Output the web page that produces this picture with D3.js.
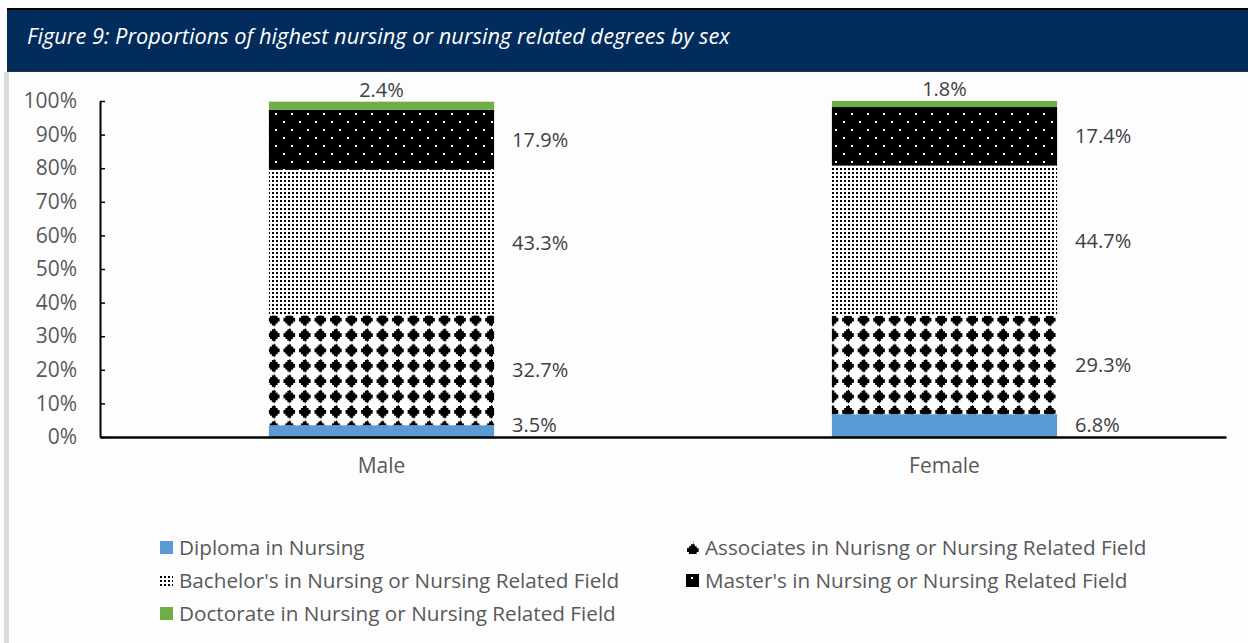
<!DOCTYPE html>
<html lang="en">
<head>
<meta charset="UTF-8">
<title>Figure 9</title>
<script src="https://d3js.org/d3.v7.min.js"></script>
<style>
    body { margin: 0; background: #fdfdfd; }
    svg { display: block; }
    .axis text { font-family: "Open Sans", sans-serif; font-size: 21px; fill: #595959; }
    .lbl { font-family: "Open Sans", sans-serif; font-size: 20px; fill: #404040; }
    .legend text { font-family: "Open Sans", sans-serif; font-size: 20.7px; fill: #595959; }
</style>
</head>
<body>
<svg></svg>
<script>
    // chart data
    var categories = ["Male", "Female"];
    var seriesNames = [
        "Diploma in Nursing",
        "Associates in Nurisng or Nursing Related Field",
        "Bachelor's in Nursing or Nursing Related Field",
        "Master's in Nursing or Nursing Related Field",
        "Doctorate in Nursing or Nursing Related Field"
    ];
    var diploma    = [3.5, 6.8];
    var associates = [32.7, 29.3];
    var bachelors  = [43.3, 44.7];
    var masters    = [17.9, 17.4];
    var doctorate  = [2.4, 1.8];
    var yTicks = [0, 10, 20, 30, 40, 50, 60, 70, 80, 90, 100];
    var title = "Figure 9: Proportions of highest nursing or nursing related degrees by sex";

    var w = 1248, h = 643;
    var padding = { top: 101, right: 22, bottom: 206, left: 100 };

    var svg = d3.select("svg").attr("width", w).attr("height", h);
    var defs = svg.append("defs");

    // fill patterns, roughly like the excel ones
    var pDia = defs.append("pattern").attr("id", "pAssoc")
        .attr("patternUnits", "userSpaceOnUse").attr("width", 16).attr("height", 16)
        .attr("patternTransform", "translate(266,312) scale(0.97,0.96)");
    pDia.append("rect").attr("width", 16).attr("height", 16).attr("fill", "#fff");
    pDia.append("path").attr("fill", "#000").attr("shape-rendering", "crispEdges")
        .attr("d", "M7.5,1h1v1h1.5v2h2v2h2v4h-2v2h-2v2h-1.5v1h-1v-1h-1.5v-2h-2v-2h-2v-4h2v-2h2v-2h1.5z");

    var pDot = defs.append("pattern").attr("id", "pBach")
        .attr("patternUnits", "userSpaceOnUse").attr("width", 4).attr("height", 4);
    pDot.append("rect").attr("width", 4).attr("height", 4).attr("fill", "#fff");
    pDot.append("rect").attr("width", 2).attr("height", 2).attr("fill", "#000");

    var pMas = defs.append("pattern").attr("id", "pMast")
        .attr("patternUnits", "userSpaceOnUse").attr("width", 16).attr("height", 16)
        .attr("patternTransform", "translate(275,113)");
    pMas.append("rect").attr("width", 16).attr("height", 16).attr("fill", "#000");
    pMas.append("rect").attr("width", 2).attr("height", 2).attr("fill", "#fff");
    pMas.append("rect").attr("x", 8).attr("y", 8).attr("width", 2).attr("height", 2).attr("fill", "#fff");

    var fills = ["#5b9bd5", "url(#pAssoc)", "url(#pBach)", "url(#pMast)", "#70ad47"];

    // title bar
    svg.append("rect").attr("x", 7).attr("y", 9).attr("width", w - 7).attr("height", 63).attr("fill", "#022c5c");
    svg.append("rect").attr("x", 7).attr("y", 8).attr("width", w - 7).attr("height", 2).attr("fill", "#000");
    svg.append("rect").attr("x", 7).attr("y", 71).attr("width", w - 7).attr("height", 1).attr("fill", "#333");
    svg.append("text").attr("x", 27).attr("y", 44)
        .style("font-family", "'Open Sans', sans-serif").style("font-size", "21.8px")
        .style("font-style", "italic").attr("fill", "#fff").text(title);
    // grey strip on the left
    svg.append("rect").attr("x", 4).attr("y", 72).attr("width", 5).attr("height", h - 72).attr("fill", "#dcdcdc");

    var rows = categories.map(function(c, i) {
        return { cat: c, s0: diploma[i], s1: associates[i], s2: bachelors[i], s3: masters[i], s4: doctorate[i] };
    });
    var keys = ["s0", "s1", "s2", "s3", "s4"];
    var stacked = d3.stack().keys(keys)(rows);

    var x = d3.scaleBand().domain(categories).range([padding.left, w - padding.right]).paddingInner(0.6).paddingOuter(0.3);
    var y = d3.scaleLinear().domain([0, 100]).range([h - padding.bottom, padding.top]);

    var yAxis = d3.axisLeft(y).tickValues(yTicks).tickFormat(function(d) { return d + "%"; })
        .tickSizeInner(-5).tickSizeOuter(0).tickPadding(23);
    var gy = svg.append("g").attr("class", "axis").attr("transform", "translate(" + padding.left + ",0)").call(yAxis);
    gy.select(".domain").attr("stroke", "#000").attr("stroke-width", 2);
    gy.selectAll(".tick line").attr("stroke", "#000").attr("stroke-width", 1.5);

    // bars
    stacked.forEach(function(layer, k) {
        svg.append("g").selectAll("rect").data(layer).enter().append("rect")
            .attr("x", function(d) { return x(d.data.cat); })
            .attr("y", function(d) { return y(d[1]); })
            .attr("width", x.bandwidth())
            .attr("height", function(d) { return y(d[0]) - y(d[1]); })
            .attr("fill", fills[k]);
    });

    var xAxis = d3.axisBottom(x).tickSize(0).tickPadding(21);
    var gx = svg.append("g").attr("class", "axis").attr("transform", "translate(0," + y(0) + ")").call(xAxis);
    gx.select(".domain").attr("stroke", "#000").attr("stroke-width", 2.5);

    // data labels
    stacked.forEach(function(layer, k) {
        layer.forEach(function(d) {
            var val = d[1] - d[0];
            var t = svg.append("text").attr("class", "lbl").text(val.toFixed(1) + "%");
            if (k === keys.length - 1) {
                t.attr("x", x(d.data.cat) + x.bandwidth() / 2).attr("y", y(d[1]) - 5)
                    .attr("text-anchor", "middle");
            } else {
                var my = Math.min((y(d[0]) + y(d[1])) / 2, y(0) - 12);
                t.attr("x", x(d.data.cat) + x.bandwidth() + 18).attr("y", my).attr("dy", "0.35em");
            }
        });
    });

    // legend
    var legendPos = [[160, 548], [686, 548], [160, 581], [686, 581], [160, 614]];
    var lg = svg.append("g").attr("class", "legend");
    seriesNames.forEach(function(name, i) {
        var p = legendPos[i];
        lg.append("rect").attr("x", p[0]).attr("y", p[1] - 7).attr("width", 13).attr("height", 13).attr("fill", fills[i]);
        lg.append("text").attr("x", p[0] + 19).attr("y", p[1]).attr("dy", "0.35em").text(name);
    });
</script>
</body>
</html>
